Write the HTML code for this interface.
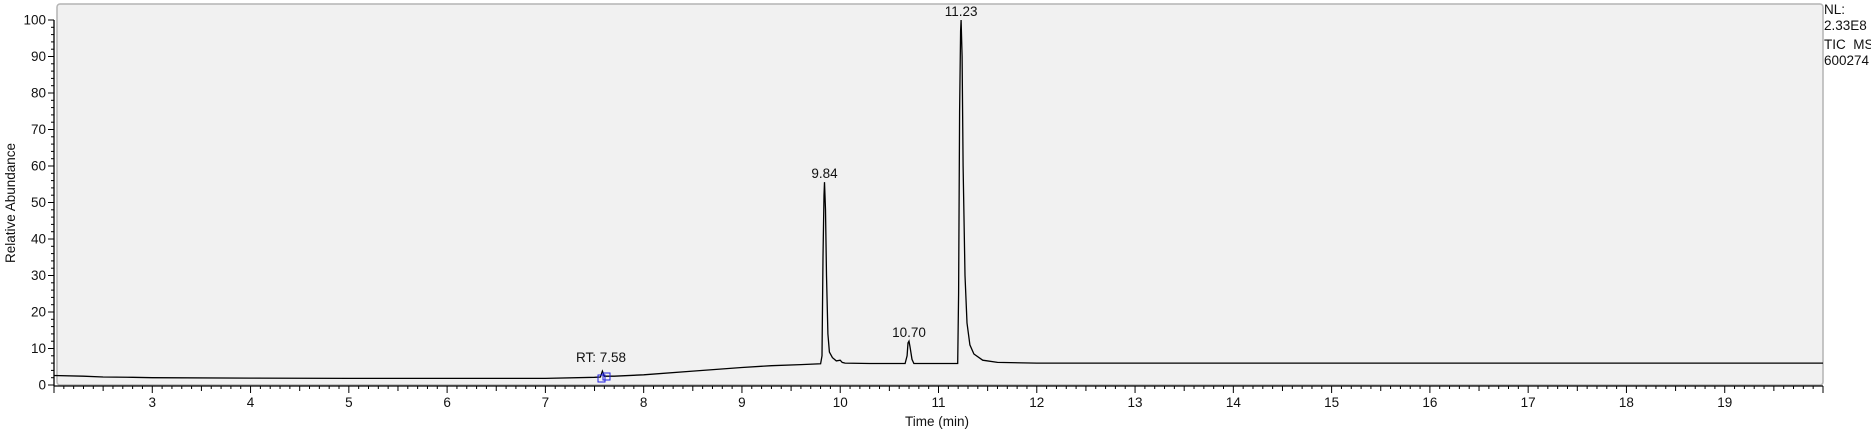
<!DOCTYPE html>
<html><head><meta charset="utf-8"><style>
html,body{margin:0;padding:0;background:#fff;}
svg{display:block;font-family:"Liberation Sans",Arial,sans-serif;}
</style></head><body>
<svg id="chart" width="1871" height="438" xmlns="http://www.w3.org/2000/svg">
<rect x="57" y="4" width="1766" height="381" rx="3" fill="#f1f1f1" stroke="#b4b4b4" stroke-width="1.5"/>
<g id="yticks"></g>
<g id="xticks"></g>
<path id="trace" fill="none" stroke="#000" stroke-width="1.3"/>
<g id="labels"></g>
<text transform="translate(15,203) rotate(-90)" text-anchor="middle" font-size="13.5" fill="#111">Relative Abundance</text>
<text x="937" y="426" text-anchor="middle" font-size="13.5" fill="#111">Time (min)</text>
<g font-size="13.5" fill="#111">
<text x="1824" y="14">NL:</text>
<text x="1824" y="30">2.33E8</text>
<text x="1824" y="49" xml:space="preserve">TIC  MS</text>
<text x="1824" y="65">600274</text>
</g>
<g fill="none" stroke="#2020e0" stroke-width="1">
<rect x="598" y="375" width="7" height="7"/>
<rect x="603" y="373" width="7" height="7"/>
</g>
</svg>
<script>
const times = [2.0,2.3,2.5,2.8,3.0,4.0,5.0,6.0,7.0,7.5,7.56,7.58,7.6,7.7,8.0,8.5,9.0,9.3,9.6,9.80,9.815,9.825,9.835,9.84,9.85,9.86,9.875,9.89,9.92,9.96,10.0,10.02,10.05,10.3,10.66,10.68,10.69,10.70,10.71,10.73,10.75,11.0,11.195,11.205,11.215,11.225,11.23,11.24,11.25,11.27,11.29,11.32,11.36,11.45,11.6,12,14,16,18,20];
const abundance = [2.6,2.4,2.2,2.1,2.0,1.9,1.8,1.8,1.8,2.1,2.2,3.8,2.4,2.4,2.8,3.8,4.8,5.3,5.6,5.8,8,35,52,55.6,48,30,14,9,7.5,6.6,6.8,6.2,6.0,5.9,5.9,8,11.5,12,10.5,7,5.9,5.9,5.9,25,75,97,100,90,60,30,17,11,8.5,6.8,6.2,6,6,6,6,6];
const xTicks = [3,4,5,6,7,8,9,10,11,12,13,14,15,16,17,18,19];
const yTicks = [0,10,20,30,40,50,60,70,80,90,100];
const peakTimes = [9.84,10.70,11.23];
const peakValues = [55.6,12,100];
const peakText = ["9.84","10.70","11.23"];

const X0=54,X1=1823,Y0=385,Y1=20,T0=2,T1=20;
function xs(t){return X0+(t-T0)/(T1-T0)*(X1-X0);}
function ys(v){return Y0-(v/100)*(Y0-Y1);}
const NS="http://www.w3.org/2000/svg";
function mk(tag,attrs,parent){const e=document.createElementNS(NS,tag);for(const k in attrs)e.setAttribute(k,attrs[k]);parent.appendChild(e);return e;}

const yg=document.getElementById('yticks');
const ya=mk('line',{x1:X0,y1:ys(100),x2:X0,y2:Y0+1,stroke:'#000','stroke-width':1.3},yg);


for(let v=0;v<=100;v+=2){
  const major=v%10===0;
  mk('line',{x1:X0-(major?6:3),y1:ys(v),x2:X0,y2:ys(v),stroke:'#000','stroke-width':1},yg);
}
yTicks.forEach(v=>{
  const t=mk('text',{x:X0-8,y:ys(v)+4.5,'text-anchor':'end','font-size':13.5,fill:'#111'},yg);
  t.textContent=v;
  
  
});

const xg=document.getElementById('xticks');
const xa=mk('line',{x1:X0,y1:Y0+1,x2:X1,y2:Y0+1,stroke:'#000','stroke-width':1.3},xg);


for(let i=0;i<=(T1-T0)*10;i++){
  const t=T0+i/10;
  const major=i%10===0, mid=i%5===0;
  mk('line',{x1:xs(t),y1:Y0+1,x2:xs(t),y2:Y0+1+(major?7:(mid?5:3)),stroke:'#000','stroke-width':1},xg);
}
xTicks.forEach(v=>{
  const t=mk('text',{x:xs(v),y:Y0+22,'text-anchor':'middle','font-size':13.5,fill:'#111'},xg);
  t.textContent=v;
  
  
});

let d='';
times.forEach((t,i)=>{d+=(i?'L':'M')+xs(t).toFixed(1)+','+ys(abundance[i]).toFixed(1);});
document.getElementById('trace').setAttribute('d',d);

const lg=document.getElementById('labels');
peakTimes.forEach((t,i)=>{
  const e=mk('text',{x:xs(t),y:ys(peakValues[i])-4,'text-anchor':'middle','font-size':13.5,fill:'#111'},lg);
  e.textContent=peakText[i];
  
  
});
const rt=mk('text',{x:576,y:362,'font-size':13.5,fill:'#111'},lg);
rt.textContent='RT: 7.58';


</script>
</body></html>
